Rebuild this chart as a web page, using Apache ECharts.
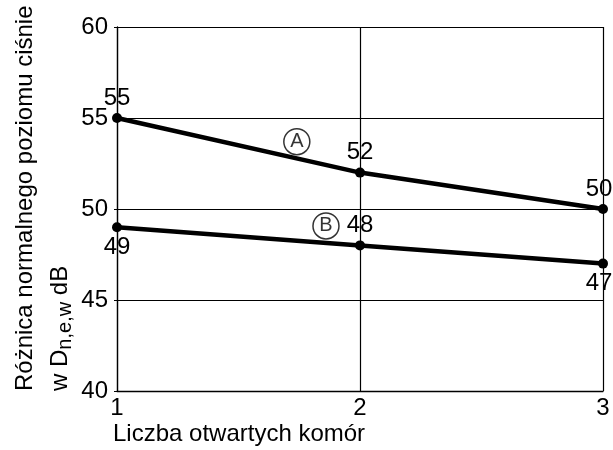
<!DOCTYPE html>
<html><head><meta charset="utf-8">
<script src="https://cdn.jsdelivr.net/npm/echarts@6/dist/echarts.min.js"></script>
<style>html,body{margin:0;padding:0;background:#fff}#c{width:613px;height:450px}</style>
</head><body><div id="c"></div>
<script>
const xValues = [1, 2, 3];
const seriesA = [55, 52, 50];
const seriesB = [49, 48, 47];
const labelPosA = ['top', 'top', 'top'];
const labelPosB = ['bottom', 'top', 'bottom'];
const annotNames = ['A', 'B'];
const annotPos = [[1.74, 53.7], [1.86, 49.07]];
const yTicks = [40, 45, 50, 55, 60];
const xTitle = 'Liczba otwartych komór';
const yTitle1 = 'Różnica normalnego poziomu ciśnie';

const FF = '"Liberation Sans", Arial, sans-serif';
const FS = 24;
const chart = echarts.init(document.getElementById('c'));

function mk(vals, pos) {
  return vals.map((v, i) => ({
    value: [xValues[i], v],
    label: { position: pos[i], offset: i === 2 ? [-4, 0] : [0, 0] }
  }));
}

chart.setOption({
  animation: false,
  grid: { left: 117, right: 10, top: 27, bottom: 59, containLabel: false },
  xAxis: {
    type: 'value', min: 1, max: 3, interval: 1,
    axisLine: { show: true, lineStyle: { color: '#000', width: 1.3 } },
    axisTick: { show: false },
    axisLabel: { color: '#000', fontSize: FS, fontFamily: FF, margin: 5 },
    splitLine: { show: true, lineStyle: { color: '#000', width: 1.2 } }
  },
  yAxis: {
    type: 'value', min: 40, max: 60, interval: 5,
    axisLine: { show: true, lineStyle: { color: '#000', width: 1.3 } },
    axisTick: { show: true, inside: false, length: 3, lineStyle: { color: '#000' } },
    axisLabel: { color: '#000', fontSize: FS, fontFamily: FF, margin: 9 },
    splitLine: { show: true, lineStyle: { color: '#000', width: 1.2 } }
  },
  series: [
    {
      type: 'line', data: mk(seriesA, labelPosA),
      symbol: 'circle', symbolSize: 10,
      lineStyle: { color: '#000', width: 4.5 },
      itemStyle: { color: '#000' },
      label: { show: true, color: '#000', fontSize: FS, fontFamily: FF, distance: 3,
        formatter: p => p.value[1] }
    },
    {
      type: 'line', data: mk(seriesB, labelPosB),
      symbol: 'circle', symbolSize: 10,
      lineStyle: { color: '#000', width: 4.5 },
      itemStyle: { color: '#000' },
      label: { show: true, color: '#000', fontSize: FS, fontFamily: FF, distance: 3,
        formatter: p => p.value[1] }
    },
    {
      type: 'scatter', z: 5,
      data: annotPos.map((p, i) => ({ name: annotNames[i], value: p })),
      symbol: 'circle', symbolSize: 26,
      itemStyle: { color: 'rgba(255,255,255,0)', borderColor: '#000', borderWidth: 1.5 },
      label: { show: true, position: 'inside', color: '#000', fontSize: 20, fontFamily: FF,
        formatter: p => p.name }
    }
  ],
  graphic: [
    {
      type: 'text', x: 113, y: 434,
      style: { text: xTitle, fill: '#000', font: FS + 'px ' + FF, textAlign: 'left', textVerticalAlign: 'middle' }
    },
    {
      type: 'text', x: 25, y: 391, rotation: Math.PI / 2,
      style: { text: yTitle1, fill: '#000', font: FS + 'px ' + FF, textAlign: 'left', textVerticalAlign: 'middle' }
    },
    {
      type: 'text', x: 60, y: 391, rotation: Math.PI / 2,
      style: {
        text: '{n|w D}{s|n,e,w}{n| dB}',
        textAlign: 'left', textVerticalAlign: 'middle',
        rich: {
          n: { fontSize: FS, fontFamily: FF, fill: '#000', lineHeight: 30, verticalAlign: 'middle' },
          s: { fontSize: 20, fontFamily: FF, fill: '#000', lineHeight: 30, verticalAlign: 'bottom' }
        }
      }
    }
  ]
});
</script></body></html>
